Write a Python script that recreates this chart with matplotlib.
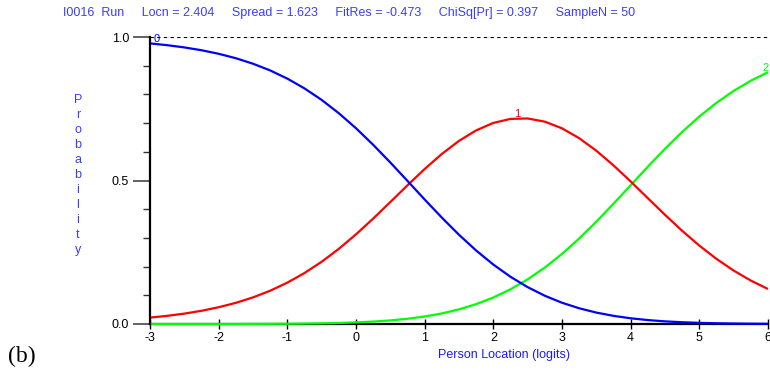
import matplotlib
matplotlib.use("Agg")
import matplotlib.pyplot as plt
from matplotlib.ticker import MultipleLocator

# Person location grid (logits)
location = [-3.0, -2.75, -2.5, -2.25, -2.0, -1.75, -1.5, -1.25, -1.0, -0.75,
            -0.5, -0.25, 0.0, 0.25, 0.5, 0.75, 1.0, 1.25, 1.5, 1.75,
            2.0, 2.25, 2.5, 2.75, 3.0, 3.25, 3.5, 3.75, 4.0, 4.25,
            4.5, 4.75, 5.0, 5.25, 5.5, 5.75, 6.0]

# Category probability curves
prob_cat0 = [0.9777, 0.9715, 0.9637, 0.9539, 0.9415, 0.9261, 0.9069, 0.8835, 0.8550, 0.8209,
             0.7808, 0.7344, 0.6821, 0.6244, 0.5627, 0.4985, 0.4338, 0.3707, 0.3109, 0.2560,
             0.2071, 0.1645, 0.1284, 0.0984, 0.0741, 0.0548, 0.0398, 0.0284, 0.0199, 0.0137,
             0.0092, 0.0061, 0.0040, 0.0026, 0.0017, 0.0011, 0.0007]
prob_cat1 = [0.0223, 0.0284, 0.0362, 0.0460, 0.0584, 0.0737, 0.0927, 0.1159, 0.1441, 0.1776,
             0.2169, 0.2619, 0.3124, 0.3672, 0.4248, 0.4833, 0.5400, 0.5925, 0.6381, 0.6747,
             0.7006, 0.7146, 0.7161, 0.7050, 0.6818, 0.6475, 0.6038, 0.5527, 0.4967, 0.4384,
             0.3804, 0.3247, 0.2732, 0.2268, 0.1862, 0.1513, 0.1220]
prob_cat2 = [0.0000, 0.0000, 0.0001, 0.0001, 0.0001, 0.0002, 0.0004, 0.0006, 0.0009, 0.0015,
             0.0023, 0.0036, 0.0056, 0.0084, 0.0125, 0.0182, 0.0262, 0.0368, 0.0510, 0.0692,
             0.0923, 0.1209, 0.1555, 0.1966, 0.2441, 0.2977, 0.3564, 0.4189, 0.4834, 0.5479,
             0.6104, 0.6691, 0.7228, 0.7706, 0.8122, 0.8476, 0.8774]

category_names = ["0", "1", "2"]
# where each category number is written (location, probability)
label_location = [-2.9, 2.35, 5.97]
label_prob = [0.975, 0.715, 0.875]

x_ticks = [-3, -2, -1, 0, 1, 2, 3, 4, 5, 6]
y_ticks = [0.0, 0.5, 1.0]
y_tick_labels = ["0.0", "0.5", "1.0"]

header = ("I0016  Run     Locn = 2.404     Spread = 1.623     FitRes = -0.473     "
          "ChiSq[Pr] = 0.397     SampleN = 50")

W, H = 770, 374
fig = plt.figure(figsize=(W / 100, H / 100), dpi=100)
plt.rcParams["font.family"] = ["Liberation Sans", "DejaVu Sans"]


def px(x, y):
    return x / W, 1 - y / H


ax_left, ax_right, ax_top, ax_bottom = 150, 768, 37, 324
ax = fig.add_axes([ax_left / W, 1 - ax_bottom / H,
                   (ax_right - ax_left) / W, (ax_bottom - ax_top) / H])

colors = ["#0000ff", "#ff0000", "#00ff00"]
ax.axhline(1.0, color="black", lw=0.8, ls=(0, (3, 3)), zorder=1)
for probs, c in zip([prob_cat2, prob_cat1, prob_cat0], colors[::-1]):
    ax.plot(location, probs, color=c, lw=1.6, solid_capstyle="butt", zorder=3, clip_on=False)

for name, lx, ly, c in zip(category_names, label_location, label_prob, colors):
    ax.text(lx, ly, name, color=c, fontsize=8, ha="center", va="bottom", clip_on=False)

ax.set_xlim(-3, 6)
ax.set_ylim(0, 1)
for s in ["top", "right"]:
    ax.spines[s].set_visible(False)
ax.spines["left"].set_linewidth(1.6)
ax.spines["bottom"].set_linewidth(1.6)
ax.spines["left"].set_zorder(4)

ax.set_xticks(x_ticks)
ax.set_xticklabels([str(t) for t in x_ticks])
ax.set_yticks(y_ticks)
ax.set_yticklabels(y_tick_labels)
ax.yaxis.set_minor_locator(MultipleLocator(0.1))
ax.tick_params(axis="x", direction="inout", length=7, width=1, pad=2, labelsize=9)
ax.tick_params(axis="y", which="major", direction="out", length=12, width=1.3,
               color="#555555", pad=3, labelsize=9)
ax.tick_params(axis="y", which="minor", direction="out", length=5, width=1, color="#333333")

fig.text(*px(63, 13), header, color="#3c3cff", fontsize=9, ha="left", va="center")
fig.text(*px(78, 175), "\n".join("Probability"), color="#3c3cff", fontsize=9,
         ha="center", va="center", linespacing=1.33)
fig.text(*px(504, 355), "Person Location (logits)", color="#1a1aff", fontsize=9,
         ha="center", va="center")
fig.text(*px(8, 356), "(b)", color="black", fontsize=17, family="Liberation Serif",
         ha="left", va="center")

fig.savefig("out.png", dpi=100)
